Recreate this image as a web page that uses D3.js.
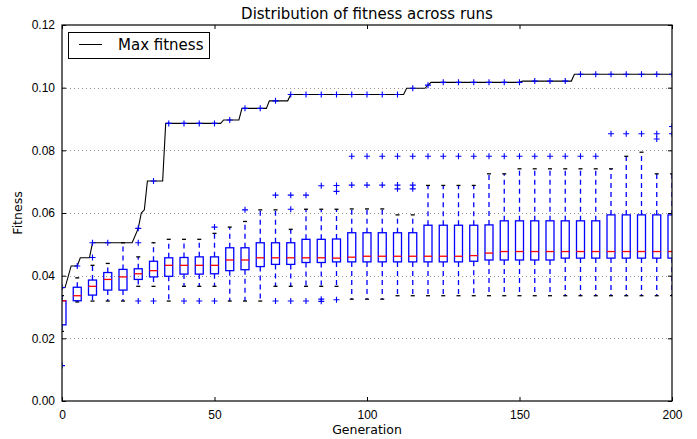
<!DOCTYPE html>
<html>
<head>
<meta charset="utf-8">
<script src="https://cdn.jsdelivr.net/npm/d3@7"></script>
<style>
  body { margin: 0; background: #fff; }
  svg { font-family: "DejaVu Sans", sans-serif; }
</style>
</head>
<body>
<svg width="697" height="439"></svg>
<script>
// box positions (generation) and box statistics
var gens = d3.range(0, 201, 5);
var whiskerLow = [0.0222, 0.0316, 0.0319, 0.0319, 0.0319, 0.0366, 0.0366, 0.0319, 0.0366, 0.0366,
  0.0366, 0.0319, 0.0319, 0.0319, 0.0366, 0.0366, 0.0366, 0.0366, 0.0366, 0.0325,
  0.0325, 0.0325, 0.0336, 0.0336, 0.0336, 0.0336, 0.0336, 0.0336, 0.0336, 0.0336,
  0.0336, 0.0336, 0.0336, 0.0336, 0.0336, 0.0336, 0.0336, 0.0336, 0.0336, 0.0336, 0.0336];
var q1 = [0.0243, 0.0320, 0.0338, 0.0354, 0.0354, 0.0388, 0.0396, 0.0398, 0.0405, 0.0405,
  0.0406, 0.0416, 0.0419, 0.0429, 0.0436, 0.0436, 0.0442, 0.0442, 0.0444, 0.0444,
  0.0444, 0.0444, 0.0444, 0.0444, 0.0444, 0.0444, 0.0444, 0.0446, 0.0450, 0.0450,
  0.0450, 0.0450, 0.0450, 0.0456, 0.0456, 0.0456, 0.0456, 0.0456, 0.0456, 0.0456, 0.0456];
var medians = [0.0320, 0.0336, 0.0366, 0.0388, 0.0396, 0.0406, 0.0416, 0.0433, 0.0433, 0.0433,
  0.0433, 0.0450, 0.0450, 0.0457, 0.0457, 0.0457, 0.0457, 0.0457, 0.0456, 0.0459,
  0.0462, 0.0462, 0.0462, 0.0462, 0.0462, 0.0462, 0.0462, 0.0464, 0.0472, 0.0477,
  0.0477, 0.0477, 0.0477, 0.0477, 0.0477, 0.0477, 0.0477, 0.0477, 0.0477, 0.0477, 0.0477];
var q3 = [0.0320, 0.0363, 0.0386, 0.0410, 0.0420, 0.0422, 0.0446, 0.0457, 0.0458, 0.0460,
  0.0460, 0.0489, 0.0489, 0.0505, 0.0505, 0.0505, 0.0516, 0.0516, 0.0517, 0.0537,
  0.0537, 0.0537, 0.0537, 0.0537, 0.0561, 0.0561, 0.0561, 0.0561, 0.0562, 0.0575,
  0.0575, 0.0575, 0.0575, 0.0575, 0.0575, 0.0575, 0.0594, 0.0594, 0.0594, 0.0594, 0.0594];
var whiskerHigh = [0.0336, 0.0393, 0.0433, 0.0439, 0.0505, 0.0460, 0.0505, 0.0516, 0.0516, 0.0516,
  0.0535, 0.0555, 0.0573, 0.0610, 0.0610, 0.0548, 0.0612, 0.0612, 0.0612, 0.0613,
  0.0613, 0.0613, 0.0594, 0.0594, 0.0688, 0.0688, 0.0688, 0.0688, 0.0725, 0.0725,
  0.0741, 0.0741, 0.0741, 0.0741, 0.0741, 0.0741, 0.0741, 0.0781, 0.0794, 0.0725, 0.0725];
var fliers = [
  [0.0113, 0.0362], [0.0431], [0.0458, 0.0505], [0.0505], [], [0.0319, 0.0505, 0.0551],
  [0.0319, 0.0702], [0.0886], [0.0319, 0.0886], [0.0319, 0.0886], [0.0319, 0.0555, 0.0886],
  [0.0897], [0.0610, 0.0934], [0.0934], [0.0319, 0.0657, 0.0958], [0.0319, 0.0612, 0.0657, 0.0978],
  [0.0319, 0.0657, 0.0978], [0.0318, 0.0325, 0.0687, 0.0978], [0.0323, 0.0669, 0.0688, 0.0978],
  [0.0689, 0.0781, 0.0978], [0.0689, 0.0781, 0.0978], [0.0689, 0.0781, 0.0978],
  [0.0677, 0.0689, 0.0781, 0.0978], [0.0677, 0.0689, 0.0781, 0.0998],
  [0.0781, 0.1008], [0.0781, 0.1017], [0.0781, 0.1017], [0.0781, 0.1017], [0.0781, 0.1017],
  [0.0781, 0.1017], [0.0781, 0.1017], [0.0781, 0.1021], [0.0781, 0.1021], [0.0781, 0.1021],
  [0.0781, 0.1043], [0.0781, 0.1043], [0.0853, 0.1043], [0.0853, 0.1043], [0.0853, 0.1043],
  [0.0836, 0.0853, 0.1043], [0.0853, 0.0876, 0.1043]
];

// max fitness line, vertices where it changes
var maxGen = [0, 1, 3, 5, 6, 9, 10, 23, 25, 26, 27, 28, 33, 34, 52, 53, 58, 59, 67, 68,
  74, 75, 112, 113, 119, 120, 121, 150, 151, 167, 168, 200];
var maxVal = [0.0361, 0.0362, 0.0431, 0.0431, 0.0457, 0.0457, 0.0505, 0.0505, 0.0551, 0.0600,
  0.0610, 0.0702, 0.0702, 0.0886, 0.0886, 0.0897, 0.0897, 0.0934, 0.0934, 0.0958,
  0.0958, 0.0978, 0.0978, 0.0998, 0.0998, 0.1008, 0.1017, 0.1017, 0.1021, 0.1021, 0.1043, 0.1043];

var xTicks = [0, 50, 100, 150, 200];
var yTicks = [0, 0.02, 0.04, 0.06, 0.08, 0.10, 0.12];

var margin = { left: 62, right: 672, top: 25, bottom: 401 };
var boxPx = 8;
var blue = "#0000ff";
var lw = 1.3;

var x = d3.scaleLinear().domain([0, 200]).range([margin.left, margin.right]);
var y = d3.scaleLinear().domain([0, 0.12]).range([margin.bottom, margin.top]);

var svg = d3.select("svg");

svg.append("defs")
  .append("clipPath")
    .attr("id", "plot-clip")
  .append("rect")
    .attr("x", margin.left)
    .attr("y", margin.top)
    .attr("width", margin.right - margin.left)
    .attr("height", margin.bottom - margin.top);

// grid
svg.append("g")
  .selectAll("line")
  .data(yTicks.slice(1, -1))
  .enter()
  .append("line")
    .attr("x1", margin.left)
    .attr("x2", margin.right)
    .attr("y1", d => Math.round(y(d)) + 0.5)
    .attr("y2", d => Math.round(y(d)) + 0.5)
    .attr("stroke", "#777")
    .attr("stroke-width", 0.8)
    .attr("stroke-dasharray", "1,3");

var plot = svg.append("g").attr("clip-path", "url(#plot-clip)");

// max fitness line
var maxPoints = maxGen.map((g, i) => [g, maxVal[i]]);
plot.append("path")
  .datum(maxPoints)
  .attr("fill", "none")
  .attr("stroke", "black")
  .attr("stroke-width", 1.1)
  .attr("d", d3.line().x(d => x(d[0])).y(d => y(d[1])));

// boxes
var boxes = gens.map((g, i) => ({
  gen: g, lo: whiskerLow[i], q1: q1[i], med: medians[i], q3: q3[i], hi: whiskerHigh[i], fliers: fliers[i]
}));

var box = plot.selectAll(".box")
  .data(boxes)
  .enter()
  .append("g")
    .classed("box", true);

box.append("line")
    .attr("x1", d => x(d.gen)).attr("x2", d => x(d.gen))
    .attr("y1", d => y(d.q3)).attr("y2", d => y(d.hi))
    .attr("stroke", blue).attr("stroke-width", lw).attr("stroke-dasharray", "5,4");

box.append("line")
    .attr("x1", d => x(d.gen)).attr("x2", d => x(d.gen))
    .attr("y1", d => y(d.q1)).attr("y2", d => y(d.lo))
    .attr("stroke", blue).attr("stroke-width", lw).attr("stroke-dasharray", "5,4");

box.selectAll("line.cap")
  .data(d => [{ gen: d.gen, v: d.hi }, { gen: d.gen, v: d.lo }])
  .enter()
  .append("line")
    .classed("cap", true)
    .attr("x1", d => x(d.gen) - boxPx / 4).attr("x2", d => x(d.gen) + boxPx / 4)
    .attr("y1", d => y(d.v)).attr("y2", d => y(d.v))
    .attr("stroke", "black").attr("stroke-width", lw);

box.append("rect")
    .attr("x", d => x(d.gen) - boxPx / 2)
    .attr("y", d => y(d.q3))
    .attr("width", boxPx)
    .attr("height", d => y(d.q1) - y(d.q3))
    .attr("fill", "none")
    .attr("stroke", blue)
    .attr("stroke-width", lw);

box.append("line")
    .attr("x1", d => x(d.gen) - boxPx / 2).attr("x2", d => x(d.gen) + boxPx / 2)
    .attr("y1", d => y(d.med)).attr("y2", d => y(d.med))
    .attr("stroke", "#ff0000").attr("stroke-width", lw);

box.selectAll("path.flier")
  .data(d => d.fliers.map(v => ({ gen: d.gen, v: v })))
  .enter()
  .append("path")
    .classed("flier", true)
    .attr("d", d => {
      var cx = x(d.gen), cy = y(d.v), s = 3;
      return `M${cx - s},${cy}H${cx + s}M${cx},${cy - s}V${cy + s}`;
    })
    .attr("stroke", blue)
    .attr("stroke-width", 1.1)
    .attr("fill", "none");

// axes frame and ticks
svg.append("rect")
  .attr("x", margin.left)
  .attr("y", margin.top)
  .attr("width", margin.right - margin.left)
  .attr("height", margin.bottom - margin.top)
  .attr("fill", "none")
  .attr("stroke", "black")
  .attr("stroke-width", 1.2);

svg.append("g")
    .attr("transform", `translate(0, ${margin.bottom})`)
    .call(d3.axisBottom(x).tickValues(xTicks).tickSize(-4).tickPadding(9).tickFormat(d3.format("d")))
    .call(g => g.select(".domain").remove())
    .call(g => g.selectAll("text").attr("font-size", 12).attr("fill", "black"));

svg.append("g")
    .attr("transform", `translate(0, ${margin.top})`)
    .call(d3.axisTop(x).tickValues(xTicks).tickSize(-4).tickFormat(""))
    .call(g => g.select(".domain").remove());

svg.append("g")
    .attr("transform", `translate(${margin.left}, 0)`)
    .call(d3.axisLeft(y).tickValues(yTicks).tickSize(-4).tickPadding(7).tickFormat(d3.format(".2f")))
    .call(g => g.select(".domain").remove())
    .call(g => g.selectAll("text").attr("font-size", 12).attr("fill", "black"));

svg.append("g")
    .attr("transform", `translate(${margin.right}, 0)`)
    .call(d3.axisRight(y).tickValues(yTicks).tickSize(-4).tickFormat(""))
    .call(g => g.select(".domain").remove());

// labels
svg.append("text")
  .attr("x", (margin.left + margin.right) / 2)
  .attr("y", 19)
  .attr("text-anchor", "middle")
  .style("font-size", "15px")
  .text("Distribution of fitness across runs");

svg.append("text")
  .attr("x", (margin.left + margin.right) / 2)
  .attr("y", 434)
  .attr("text-anchor", "middle")
  .style("font-size", "12.5px")
  .text("Generation");

svg.append("text")
  .attr("transform", `translate(22, ${(margin.top + margin.bottom) / 2}) rotate(-90)`)
  .attr("text-anchor", "middle")
  .style("font-size", "12.5px")
  .text("Fitness");

// legend
var legend = svg.append("g");
legend.append("rect")
  .attr("x", 68.5).attr("y", 32.5)
  .attr("width", 141).attr("height", 26)
  .attr("fill", "white").attr("stroke", "black");
legend.append("line")
  .attr("x1", 79).attr("x2", 102)
  .attr("y1", 44.5).attr("y2", 44.5)
  .attr("stroke", "black");
legend.append("text")
  .attr("x", 118).attr("y", 50)
  .style("font-size", "15px")
  .text("Max fitness");
</script>
</body>
</html>
